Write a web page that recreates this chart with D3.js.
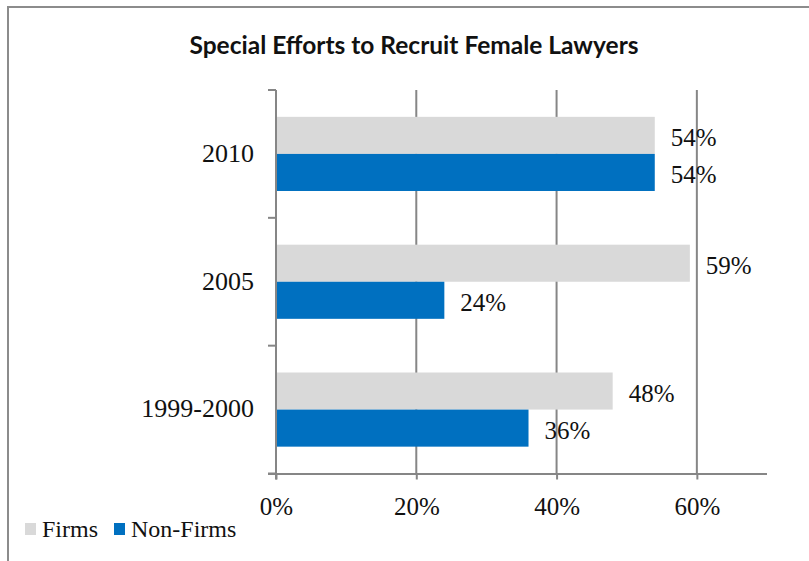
<!DOCTYPE html>
<html>
<head>
<meta charset="utf-8">
<script src="https://cdn.jsdelivr.net/npm/d3@7"></script>
<style>
  body { margin: 0; background: #fff; }
</style>
</head>
<body>
<svg id="chart" width="809" height="561"></svg>
<script>
const categories = ["2010", "2005", "1999-2000"];
const series = ["Firms", "Non-Firms"];
const firms = [0.54, 0.59, 0.48];
const nonFirms = [0.54, 0.24, 0.36];
const tickValues = [0, 0.2, 0.4, 0.6];

const colors = { "Firms": "#d9d9d9", "Non-Firms": "#0070c0" };
const axisColor = "#868686";
const serif = "'Liberation Serif', 'Times New Roman', serif";

const data = categories.map((c, i) => ({ cat: c, values: { "Firms": firms[i], "Non-Firms": nonFirms[i] } }));

const margin = { top: 90, right: 42, bottom: 87.5, left: 276 };
const width = 809, height = 561;

const svg = d3.select("#chart");

// frame
svg.append("rect")
    .attr("x", 8).attr("y", 7)
    .attr("width", 900).attr("height", 700)
    .attr("fill", "none")
    .attr("stroke", "#8c8c8c")
    .attr("stroke-width", 2);

const x = d3.scaleLinear()
    .domain([0, 0.7])
    .range([margin.left, width - margin.right]);

const y0 = d3.scaleBand()
    .domain(categories)
    .range([margin.top, height - margin.bottom])
    .paddingInner(0.42)
    .paddingOuter(0.21);

const y1 = d3.scaleBand()
    .domain(series)
    .range([0, y0.bandwidth()]);

// gridlines
svg.append("g")
    .selectAll("line")
    .data(tickValues.slice(1))
    .join("line")
    .attr("x1", d => x(d)).attr("x2", d => x(d))
    .attr("y1", margin.top).attr("y2", height - margin.bottom)
    .attr("stroke", axisColor)
    .attr("stroke-width", 2);

// bars
const groups = svg.append("g")
    .selectAll("g")
    .data(data)
    .join("g")
    .attr("transform", d => `translate(0,${y0(d.cat)})`);

groups.selectAll("rect")
    .data(d => series.map(key => ({ key, value: d.values[key] })))
    .join("rect")
    .attr("x", x(0))
    .attr("y", d => y1(d.key))
    .attr("height", y1.bandwidth())
    .attr("width", d => x(d.value) - x(0))
    .attr("fill", d => colors[d.key]);

groups.selectAll("text")
    .data(d => series.map(key => ({ key, value: d.values[key] })))
    .join("text")
    .attr("x", d => x(d.value) + 16)
    .attr("y", d => y1(d.key) + y1.bandwidth() / 2)
    .attr("dy", "0.42em")
    .attr("font-family", serif)
    .attr("font-size", 25)
    .attr("fill", "#111")
    .text(d => d3.format(".0%")(d.value));

// x axis
const xAxis = g => g
    .attr("transform", `translate(0,${height - margin.bottom})`)
    .call(d3.axisBottom(x).tickValues(tickValues).tickFormat(d3.format(".0%")).tickSize(6).tickSizeOuter(0).tickPadding(18))
    .call(g => g.select(".domain").attr("stroke", axisColor).attr("stroke-width", 2)
        .attr("d", `M${x(0) - 8},0.5H${x(0.7)}`))
    .call(g => g.selectAll(".tick line").attr("stroke", axisColor).attr("stroke-width", 2))
    .call(g => g.selectAll(".tick text")
        .attr("font-family", serif).attr("font-size", 25).attr("fill", "#111"));

// y axis
const yTicks = [margin.top].concat(categories.map(c => y0(c) + y0.bandwidth() + y0.step() * 0.21));

const yAxis = g => g
    .attr("transform", `translate(${margin.left},0)`)
    .call(d3.axisLeft(y0).tickSize(0).tickPadding(22))
    .call(g => g.select(".domain").attr("stroke", axisColor).attr("stroke-width", 2)
        .attr("d", `M0,${margin.top}V${height - margin.bottom + 6}`))
    .call(g => g.selectAll(".tick text")
        .attr("font-family", serif).attr("font-size", 26).attr("fill", "#111")
        .attr("dy", "0.3em"))
    .call(g => g.selectAll(".sep")
        .data(yTicks)
        .join("line")
        .attr("class", "sep")
        .attr("x1", -8).attr("x2", 0)
        .attr("y1", d => d).attr("y2", d => d)
        .attr("stroke", axisColor)
        .attr("stroke-width", 2));

svg.append("g").call(xAxis);
svg.append("g").call(yAxis);

// title
svg.append("text")
    .attr("x", 414)
    .attr("y", 54)
    .attr("text-anchor", "middle")
    .attr("font-family", "Lato, 'Open Sans', sans-serif")
    .attr("font-weight", "bold")
    .attr("font-size", 24.5)
    .attr("fill", "#111")
    .text("Special Efforts to Recruit Female Lawyers");

// legend
const legend = svg.append("g")
    .attr("transform", "translate(25,523)")
    .selectAll("g")
    .data(series)
    .join("g")
    .attr("transform", (d, i) => `translate(${i * 89},0)`);

legend.append("rect")
    .attr("width", 11).attr("height", 12)
    .attr("fill", d => colors[d]);

legend.append("text")
    .attr("x", 17)
    .attr("y", 14)
    .attr("font-family", serif)
    .attr("font-size", 24)
    .attr("fill", "#111")
    .text(d => d);
</script>
</body>
</html>
